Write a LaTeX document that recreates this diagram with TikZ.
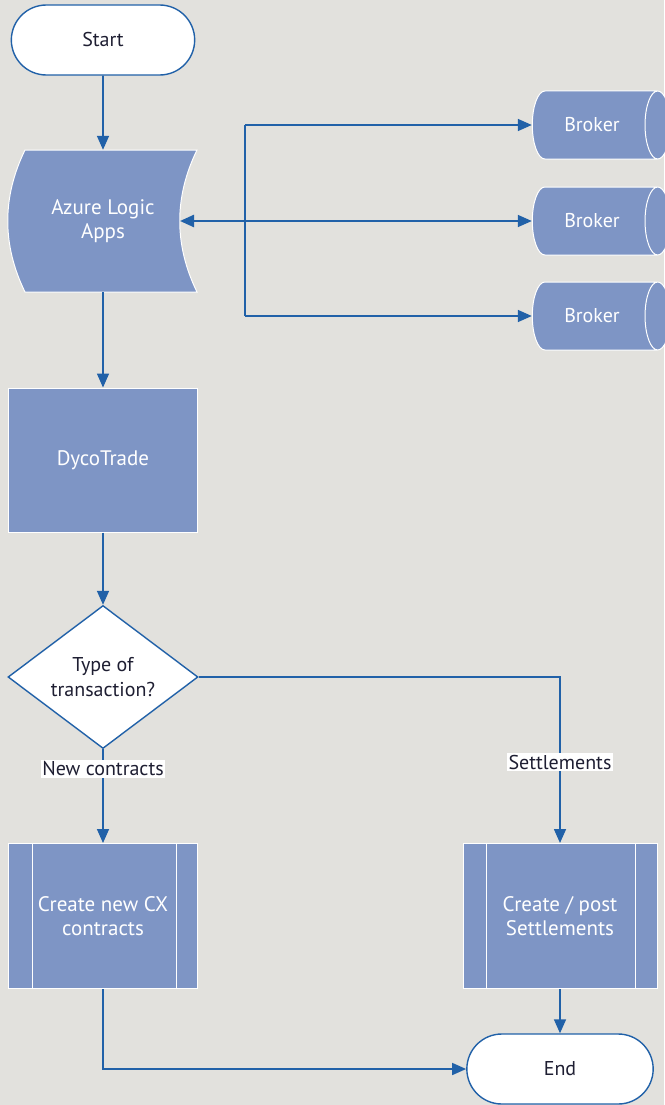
\documentclass[tikz,border=0pt]{standalone}
\usepackage{fontspec}
\setmainfont{PT Sans}
\usetikzlibrary{arrows.meta,shapes.geometric,shapes.misc}
\definecolor{bg}{RGB}{226,225,221}
\definecolor{boxfill}{RGB}{126,149,197}
\definecolor{lineblue}{RGB}{33,97,168}
\definecolor{txtdark}{RGB}{30,30,50}
\tikzset{
  conn/.style={draw=lineblue, line width=1.6pt},
  arr/.style={conn, -{Triangle[length=14pt,width=12pt]}},
  term/.style={rounded rectangle, draw=lineblue, line width=1.4pt, fill=white,
     text=txtdark, minimum width=190pt, minimum height=70pt,
     font=\fontsize{20}{24}\selectfont},
  proc/.style={rectangle, draw=white, line width=1pt, fill=boxfill, text=white,
     font=\fontsize{21}{24}\selectfont, align=center},
  broker/.style={cylinder, draw=white, line width=1pt, fill=boxfill, text=white,
     shape aspect=1.2, minimum height=138pt, minimum width=68pt,
     font=\fontsize{20}{24}\selectfont},
  lbl/.style={fill=white, inner sep=1.5pt, text=txtdark,
     font=\fontsize{20}{24}\selectfont},
}
\begin{document}
\begin{tikzpicture}[x=1pt,y=-1pt]
\fill[bg] (0,0) rectangle (664,1105);
\useasboundingbox (0,0) rectangle (664,1105);

% Start
\node[term] (start) at (103,40) {Start};

% Azure Logic Apps (stored-data shape)
\fill[boxfill, draw=white, line width=1pt] (25,150) -- (197,150)
  .. controls (174,197) and (174,245) .. (197,292) -- (25,292)
  .. controls (2,245) and (2,197) .. cycle;
\node[text=white, font=\fontsize{21}{24}\selectfont, align=center,
  minimum width=189pt, minimum height=142pt] (az) at (103,221) {Azure Logic\\Apps};
\coordinate (azR) at (180,221);

% Brokers
\node[broker] (b1) at (592,125) {Broker};
\node[broker] (b2) at (592,221) {Broker};
\node[broker] (b3) at (592,316) {Broker};
\coordinate (j1) at (245,125);
\coordinate (j2) at (245,221);
\coordinate (j3) at (245,316);

% DycoTrade
\node[proc, minimum width=189pt, minimum height=144pt] (dyco) at (103,460) {DycoTrade};

% Decision
\node[diamond, draw=lineblue, line width=1.4pt, fill=white, aspect=1.32,
  minimum width=190pt, minimum height=143pt, inner sep=0pt, align=center,
  text=txtdark, font=\fontsize{20}{25}\selectfont] (dec) at (103,677) {Type of\\transaction?};

% Predefined processes
\node[proc, minimum width=189pt, minimum height=145pt] (cx) at (103,916) {Create new CX\\contracts};
\draw[white, line width=1pt] ([xshift=24pt]cx.north west) -- ([xshift=24pt]cx.south west)
  ([xshift=-22pt]cx.north east) -- ([xshift=-22pt]cx.south east);
\node[proc, minimum width=194pt, minimum height=145pt] (st) at (560,916) {Create / post\\Settlements};
\draw[white, line width=1pt] ([xshift=24pt]st.north west) -- ([xshift=24pt]st.south west)
  ([xshift=-22pt]st.north east) -- ([xshift=-22pt]st.south east);

% End
\node[term, minimum width=193pt] (end) at (560,1069) {End};

% Connectors
\draw[arr] (start) -- (az.north);
\draw[arr, line width=2.4pt] (j2) -- (azR);
\draw[conn] (j1) -- (j3);
\draw[arr] (j1) -- (b1.west);
\draw[arr] (j2) -- (b2.west);
\draw[arr] (j3) -- (b3.west);
\draw[arr] (az.south) -- (dyco.north);
\draw[arr] (dyco.south) -- (dec.north);
\draw[arr] (dec.south) -- node[lbl, pos=0.21] {New contracts} (cx.north);
\draw[arr] (dec.east) -| node[lbl, pos=0.756] {Settlements} (st.north);
\draw[arr] (st.south) -- (end.north);
\draw[arr] (cx.south) |- (end.west);
\end{tikzpicture}
\end{document}
